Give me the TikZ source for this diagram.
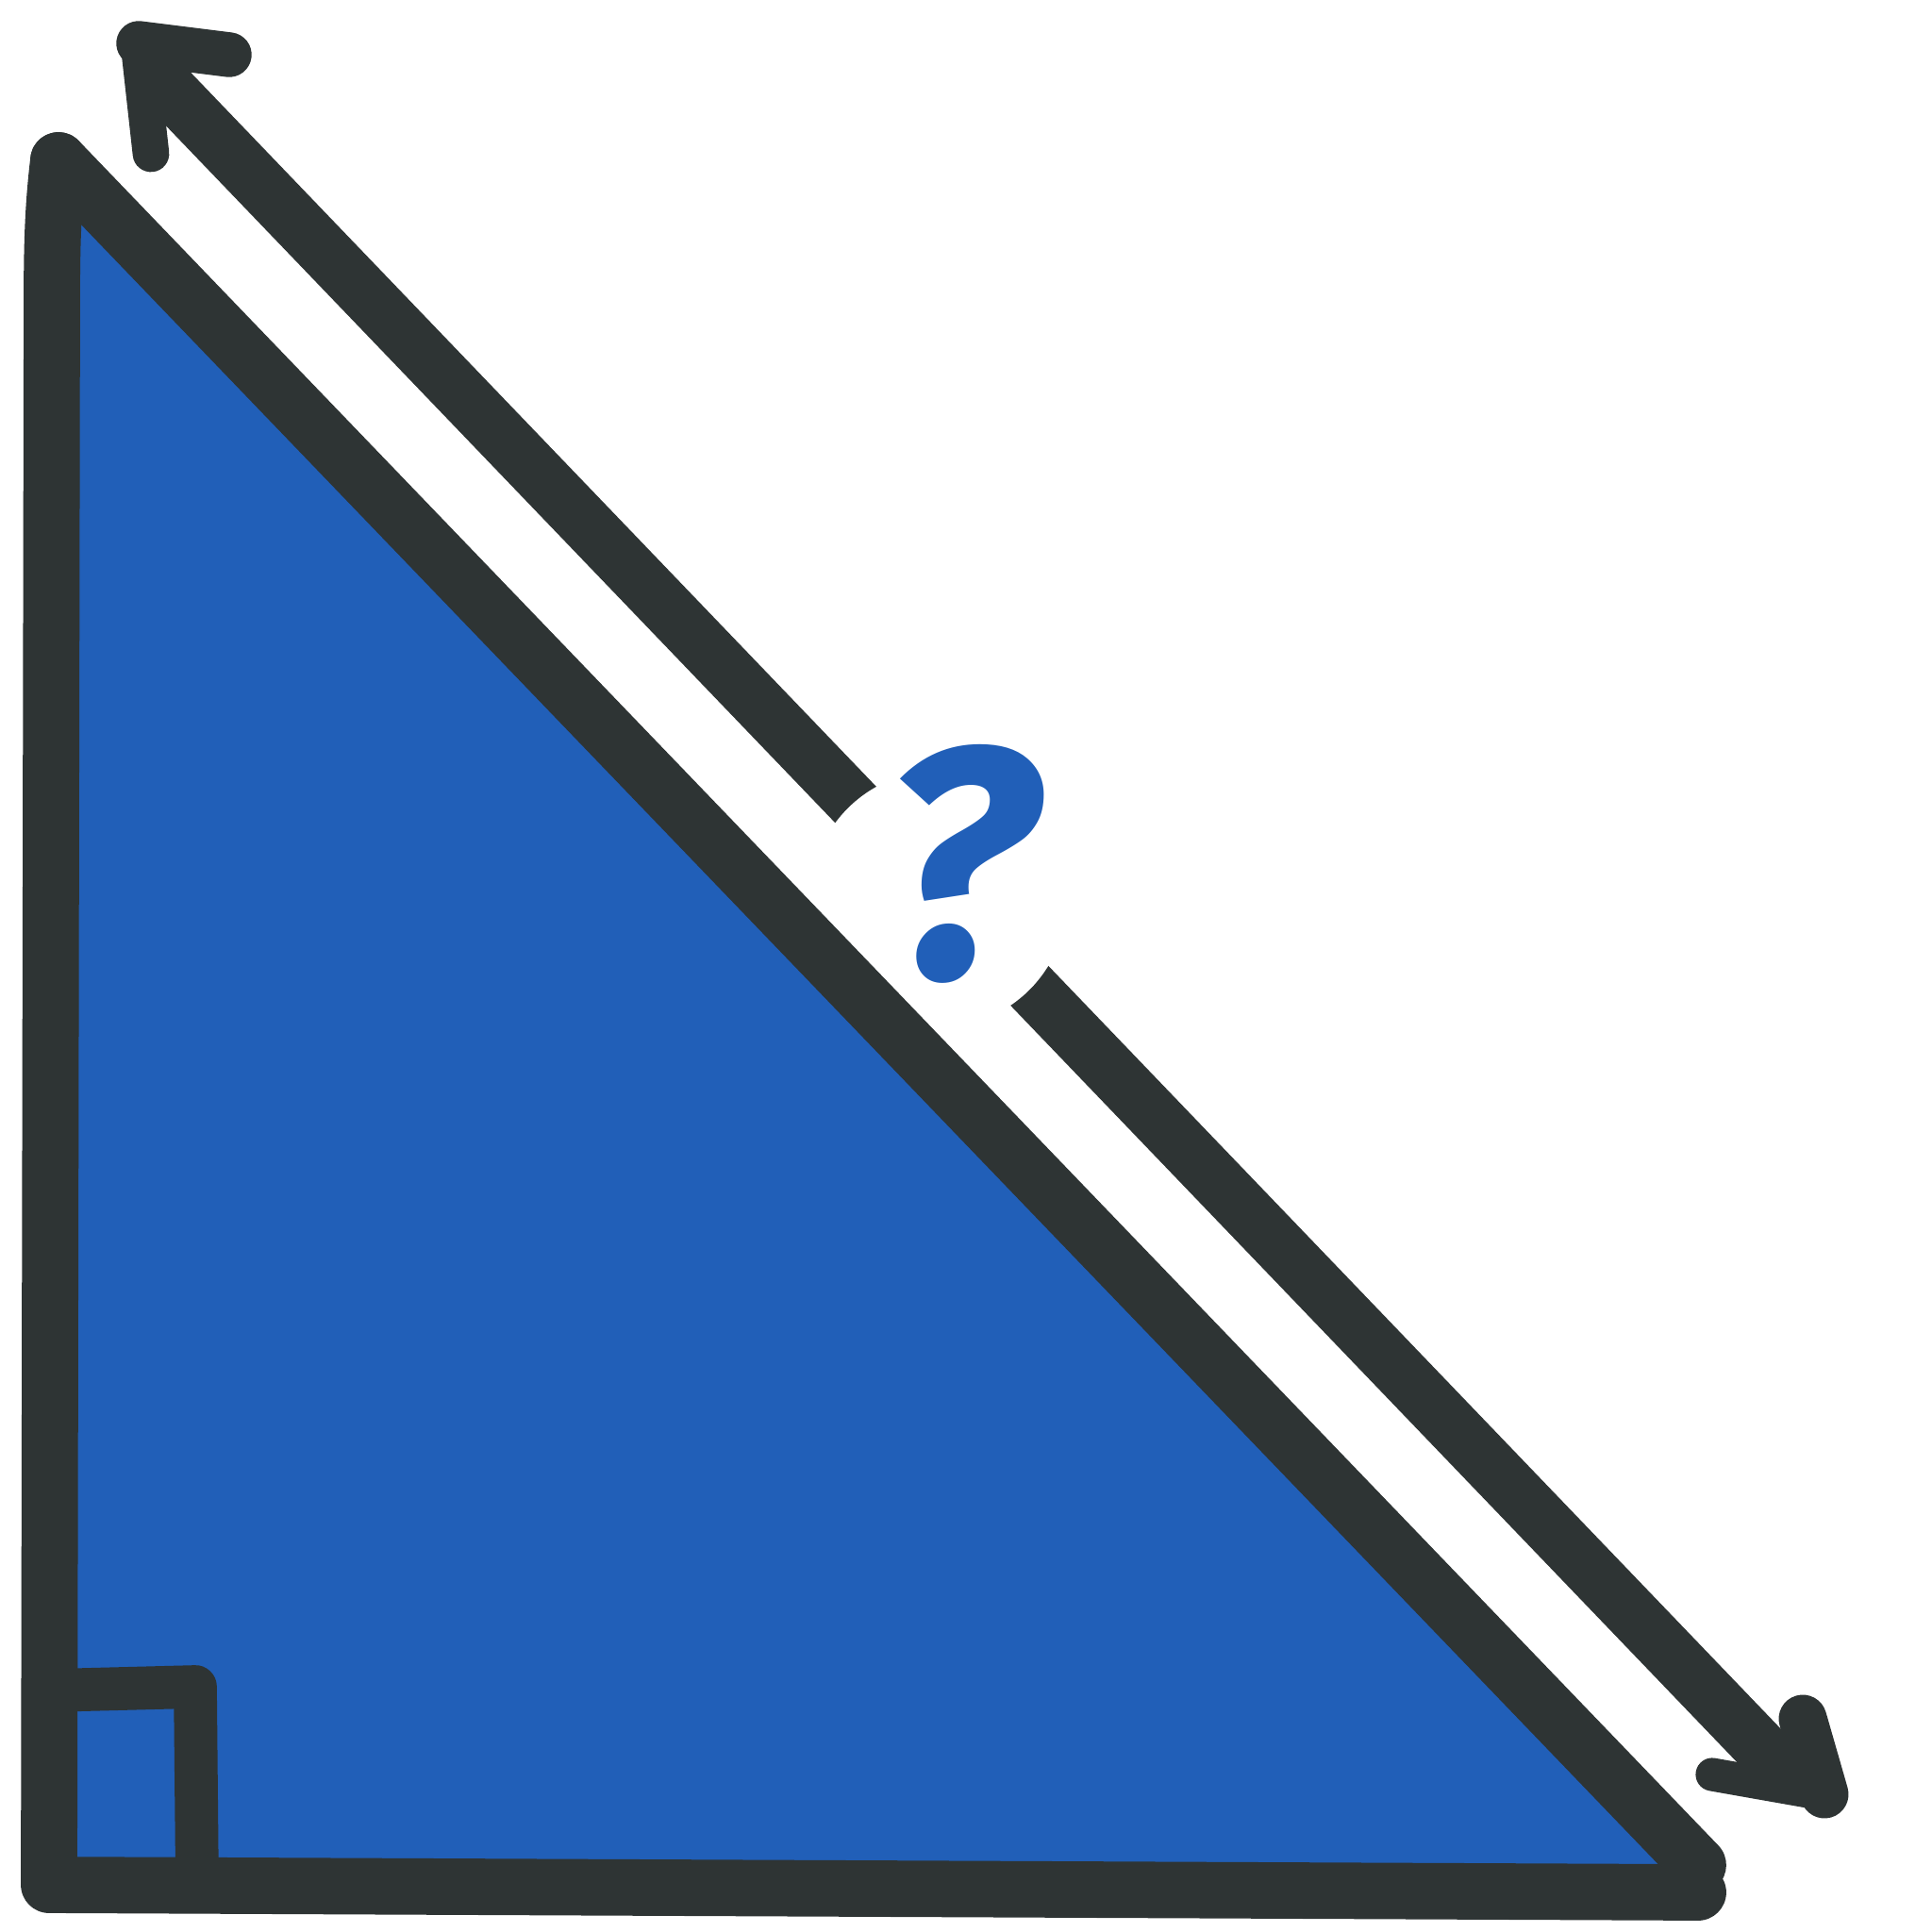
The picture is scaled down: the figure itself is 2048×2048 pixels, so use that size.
\documentclass[tikz,border=0pt]{standalone}
\usepackage{fontspec}
\setsansfont{Fira Sans}
\usepackage{tikz}
\definecolor{slate}{HTML}{2E3434}
\definecolor{fillblue}{HTML}{215FB8}

\begin{document}
\begin{tikzpicture}[x=0.01cm, y=-0.01cm,
		edge/.style={draw=slate, line width=17pt, line cap=round, line join=round},
		shaft/.style={draw=slate, line width=16.5pt, line cap=round},
		barb/.style={draw=slate, line cap=round, line join=round},
		rightangle/.style={draw=slate, line width=13pt, line cap=round, line join=round}]
		\useasboundingbox (0,0) rectangle (2048,2048);
		\coordinate (top) at (62,170);
		\coordinate (corner) at (52,1998);
		\coordinate (right) at (1800,1977);
		\coordinate (base) at (1800,2006);
		\coordinate (markl) at (52,1792);
		\coordinate (markc) at (207,1788);
		\coordinate (markb) at (209,1998);
		
		\coordinate (tipA) at (147,46);
		\coordinate (startA) at (165,80);
		\coordinate (barbA1) at (243,58);
		\coordinate (barbA2) at (160,163);
		\coordinate (tipB) at (1934,1902);
		\coordinate (startB) at (1893,1880);
		\coordinate (barbB1) at (1911,1822);
		\coordinate (barbB2) at (1815,1881);
		\coordinate (gap) at (995,953);
		
		\draw [shaft] (startA) to (startB);
		\draw [barb, line width=13.5pt] (barbA1) to (tipA);
		\draw [barb, line width=11pt] (tipA) to (barbA2);
		\draw [barb, line width=14.5pt] (barbB1) to (tipB);
		\draw [barb, line width=10pt] (barbB2) to (tipB);
		\fill [white] (gap) circle [radius=1.36cm];
		
		\fill [fillblue] (top) -- (corner) -- (base) -- (right) -- cycle;
		\draw [edge] (top) .. controls (56,220) and (55,260) .. (55,320) -- (corner) -- (base);
		\draw [edge] (top) to (right);
		\draw [rightangle] (markl) -- (markc) -- (markb);
		
		\node [text=fillblue, inner sep=0pt, font=\sffamily\bfseries\itshape\fontsize{99}{99}\selectfont] (qmark) at (1016,916) {?};
\end{tikzpicture}
\end{document}
